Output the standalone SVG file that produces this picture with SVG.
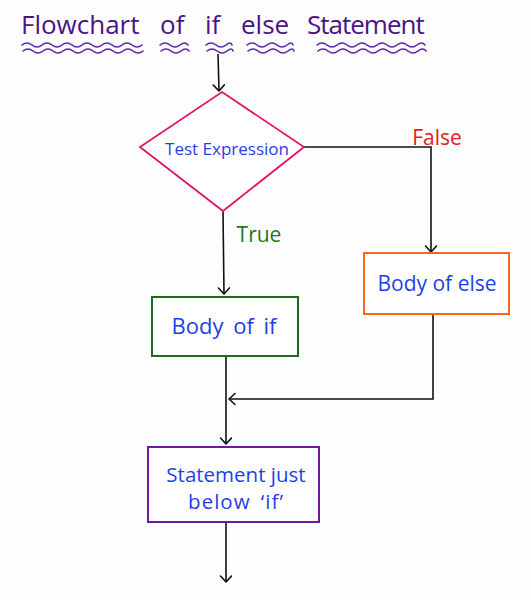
<svg xmlns="http://www.w3.org/2000/svg" width="531" height="600" viewBox="0 0 531 600">
<style>
.lbl{font-family:"Open Sans","Liberation Sans",sans-serif;fill:#1f3fe6;text-anchor:middle}
.title{font-family:"Open Sans","Liberation Sans",sans-serif;fill:#4a1486;font-size:26px}
.wave{fill:none;stroke:#5b2aa8;stroke-width:1.6;stroke-linecap:round}
.edge{fill:none;stroke:#111;stroke-width:1.6;marker-end:url(#arr)}
.box{fill:#ffffff;stroke-width:2}
</style>
<defs>
<marker id="arr" markerWidth="14" markerHeight="14" refX="10" refY="6" orient="auto" markerUnits="userSpaceOnUse">
<path d="M4,0.5 L10,6 L4,11.5" fill="none" stroke="#111" stroke-width="1.6" stroke-linecap="round" stroke-linejoin="round"/>
</marker>
</defs>
<rect width="531" height="600" fill="#fdfdfd"/>
<g id="title">
<text class="title" y="34"><tspan x="21">Flowchart</tspan><tspan x="160">of</tspan><tspan x="205">if</tspan><tspan x="241">else</tspan><tspan x="307" letter-spacing="-1">Statement</tspan></text>
<path class="wave" d="M22,45 q5,-4 10,0 t10,0 t10,0 t10,0 t10,0 t10,0 t10,0 t10,0 t10,0 t10,0 t10,0 t10,0"/>
<path class="wave" d="M23,51 q5,-4 10,0 t10,0 t10,0 t10,0 t10,0 t10,0 t10,0 t10,0 t10,0 t10,0 t10,0 t10,0"/>
<path class="wave" d="M160,45 q5,-4 10,0 t10,0 t8,0"/>
<path class="wave" d="M161,51 q5,-4 10,0 t10,0 t8,0"/>
<path class="wave" d="M206,45 q5,-4 10,0 t10,0 t6,0"/>
<path class="wave" d="M207,51 q5,-4 10,0 t10,0 t6,0"/>
<path class="wave" d="M247,45 q5,-4 10,0 t10,0 t10,0 t10,0 t6,0"/>
<path class="wave" d="M248,51 q5,-4 10,0 t10,0 t10,0 t10,0 t6,0"/>
<path class="wave" d="M317,45 q5,-4 10,0 t10,0 t10,0 t10,0 t10,0 t10,0 t10,0 t10,0 t10,0 t10,0 t8,0"/>
<path class="wave" d="M318,51 q5,-4 10,0 t10,0 t10,0 t10,0 t10,0 t10,0 t10,0 t10,0 t10,0 t10,0 t8,0"/>
</g>
<g id="connectors">
<path class="edge" d="M218,54 L219,91"/>
<path class="edge" d="M304,147 L431,147 L431,252"/>
<path class="edge" d="M223,211 L224,294"/>
<path class="edge" d="M433,314 L433,399 L229,399"/>
<path class="edge" d="M226,356 L226,444"/>
<path class="edge" d="M226,522 L226,582"/>
</g>
<g id="label-false"><text x="437" y="145" font-family="Open Sans, Liberation Sans, sans-serif" font-size="21" fill="#e31b23" text-anchor="middle">False</text></g>
<g id="label-true"><text x="259" y="242" font-family="Open Sans, Liberation Sans, sans-serif" font-size="21" fill="#1b7a1b" text-anchor="middle">True</text></g>
<g id="test-expression">
<polygon points="222,92 304,147 223,211 140,147" fill="#ffffff" stroke="#e0166a" stroke-width="1.8"/>
<text class="lbl" x="227" y="155" font-size="17">Test Expression</text>
</g>
<g id="body-if">
<rect class="box" x="152" y="297" width="146" height="59" stroke="#1e6b1e"/>
<text class="lbl" x="224" y="334" font-size="22" word-spacing="4">Body of if</text>
</g>
<g id="body-else">
<rect class="box" x="364" y="253" width="145" height="61" stroke="#f26a1b"/>
<text class="lbl" x="437" y="291" font-size="21">Body of else</text>
</g>
<g id="statement">
<rect class="box" x="148" y="447" width="171" height="75" stroke="#6a1b9a"/>
<text class="lbl" x="236" y="482" font-size="20.5">Statement just</text>
<text class="lbl" x="236" y="509" font-size="20.5" letter-spacing="1" word-spacing="4">below ‘if’</text>
</g>
</svg>
